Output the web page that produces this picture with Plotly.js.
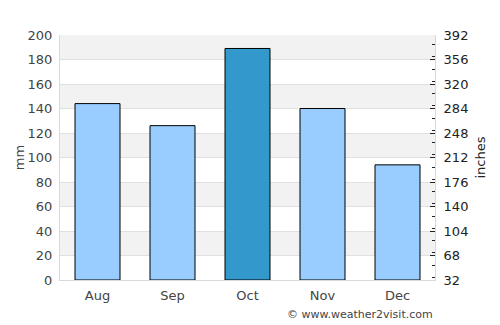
<!DOCTYPE html>
<html><head><meta charset="utf-8">
<script src="https://cdn.plot.ly/plotly-3.0.1.min.js"></script>
<style>html,body{margin:0;padding:0;background:#fff}#c{width:500px;height:325px}</style>
</head><body><div id="c"></div>
<script>
const months = ["Aug", "Sep", "Oct", "Nov", "Dec"];
const rainfallMm = [144, 126, 189, 140, 94];
const barColors = ["#99ccff", "#99ccff", "#3399cc", "#99ccff", "#99ccff"];
const leftTicks = [0, 20, 40, 60, 80, 100, 120, 140, 160, 180, 200];
const rightTicks = [32, 68, 104, 140, 176, 212, 248, 284, 320, 356, 392];

const font = "DejaVu Sans, sans-serif";
const shapes = [];
for (let i = 0; i < leftTicks.length - 1; i++) {
  if (i % 2 === 1) {
    shapes.push({type: "rect", xref: "paper", yref: "y", x0: 0, x1: 1,
      y0: leftTicks[i], y1: leftTicks[i + 1], fillcolor: "#f2f2f2",
      line: {width: 0}, layer: "below"});
  }
}

const traces = [
  {type: "bar", x: months, y: rainfallMm, width: 0.6,
   marker: {color: barColors, line: {color: "#000", width: 1}},
   hoverinfo: "x+y", yaxis: "y"},
  {type: "scatter", mode: "markers", x: months,
   y: rainfallMm.map(v => v * 1.8 + 32), yaxis: "y2",
   marker: {opacity: 0}, hoverinfo: "skip", showlegend: false}
];

const layout = {
  width: 500, height: 325,
  margin: {l: 60, r: 65, t: 35, b: 45},
  paper_bgcolor: "#fff", plot_bgcolor: "rgba(0,0,0,0)",
  showlegend: false, bargap: 0.4,
  font: {family: font, size: 13, color: "#444"},
  xaxis: {type: "category", showline: true, linecolor: "#d9d9d9", linewidth: 1,
    ticks: "", ticklabelstandoff: 3, tickfont: {family: font, size: 13, color: "#444"}, fixedrange: true},
  yaxis: {range: [0, 200], tickvals: leftTicks, showgrid: true, gridcolor: "#e0e0e0",
    showline: true, linecolor: "#d9d9d9", zeroline: false, ticks: "", ticklabelstandoff: 4,
    tickfont: {family: font, size: 13, color: "#444"},
    title: {text: "mm", font: {family: font, size: 13, color: "#444"}, standoff: 0}},
  yaxis2: {overlaying: "y", side: "right", range: [32, 392], tickvals: rightTicks,
    showgrid: false, zeroline: false, showline: true, linecolor: "#d9d9d9",
    ticks: "inside", ticklen: 5, tickcolor: "#222", tickwidth: 1, ticklabelstandoff: 5,
    minor: {dtick: 18, ticks: "inside", ticklen: 3, tickcolor: "#222", showgrid: false},
    tickfont: {family: font, size: 13, color: "#222"},
    title: {text: "inches", font: {family: font, size: 13, color: "#222"}, standoff: 8}},
  shapes: shapes,
  annotations: [{text: "© www.weather2visit.com", xref: "paper", yref: "paper",
    x: 1, y: 0, xanchor: "right", yanchor: "top", yshift: -26, showarrow: false,
    font: {family: font, size: 11, color: "#444"}}]
};
Plotly.newPlot("c", traces, layout, {displayModeBar: false, staticPlot: true});
</script></body></html>
